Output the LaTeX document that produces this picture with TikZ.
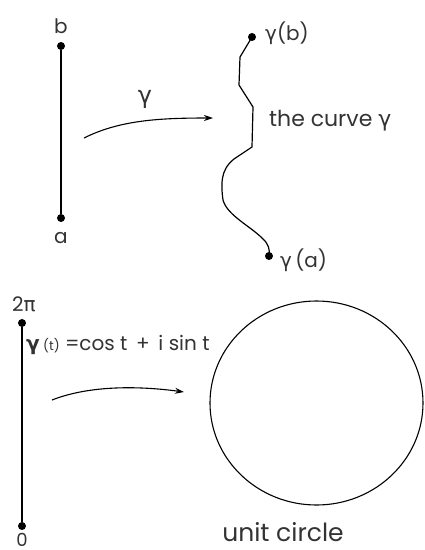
\documentclass[tikz,border=0pt]{standalone}
\usepackage{fontspec}
\setmainfont{Poppins}
\newfontfamily\gr{DejaVu Sans}
\usetikzlibrary{arrows.meta,shapes.geometric}
\begin{document}
\begin{tikzpicture}[x=1pt,y=-1pt,
  dot/.style={circle,fill=black,inner sep=0pt,minimum size=8pt},
  lbl/.style={inner sep=1pt,text=black!80,font=\fontsize{20}{22}\selectfont},
  seg/.style={line width=1.6pt},
  crv/.style={line width=1.2pt},
  maparrow/.style={line width=1.1pt,-{Stealth[length=9pt,width=6pt]}}]
\useasboundingbox (0,0) rectangle (424,550);
% top: interval [a,b]
\node[dot] (b) at (61,46) {};
\node[dot] (a) at (61,218) {};
\draw[seg] (b) -- (a);
\node[lbl] (bl) at (61,26) {b};
\node[lbl] (al) at (61,238) {a};
% mapping arrow
\coordinate (m1) at (84,138);
\coordinate (m2) at (213,118);
\draw[maparrow] (m1) .. controls (120,120) and (160,118) .. (m2);
\node[lbl,font=\fontsize{24}{26}\selectfont] (g) at (145,99) {\gr γ};
% the curve
\node[dot] (gb) at (252,37) {};
\node[dot] (ga) at (269,256) {};
\draw[crv] (gb.center) -- (240,57) -- (239,85) -- (253,107) -- (252,147) -- (234,159)
  .. controls (220,170) and (221,185) .. (223,200) .. controls (227,215) and (250,226) .. (262,238)
  .. controls (269,244) and (270,250) .. (ga.center);
\node[lbl,anchor=west] (gbl) at (264,33) {{\gr γ}(b)};
\node[lbl,anchor=west] (gal) at (279,260) {{\gr γ}\,(a)};
\node[lbl,anchor=west,font=\fontsize{22}{24}\selectfont] (cl) at (268,121) {the curve {\gr γ}};
% bottom: interval [0,2pi]
\node[dot] (tp) at (22,323) {};
\node[dot] (t0) at (22,526) {};
\draw[seg] (tp) -- (t0);
\node[lbl] (tpl) at (24,304) {2{\gr π}};
\node[lbl,inner sep=0pt,anchor=base,font=\fontsize{18}{20}\selectfont] (t0l) at (22,546) {0};
\node[lbl,anchor=west,font=\fontsize{20}{21}\selectfont] (eq) at (25,345) {{\gr\bfseries γ}\,{\fontsize{13}{14}\selectfont(t)} =cos t \,+\, i sin t};
% mapping arrow
\coordinate (n1) at (52,400);
\coordinate (n2) at (184,392);
\draw[maparrow] (n1) .. controls (90,385) and (140,386) .. (n2);
% unit circle
\node[draw,ellipse,minimum width=213pt,minimum height=204pt,inner sep=0pt,line width=1.1pt] (uc) at (316.5,403) {};
\node[lbl,font=\fontsize{25}{27}\selectfont] (ucl) at (283,532) {unit circle};
\end{tikzpicture}
\end{document}
